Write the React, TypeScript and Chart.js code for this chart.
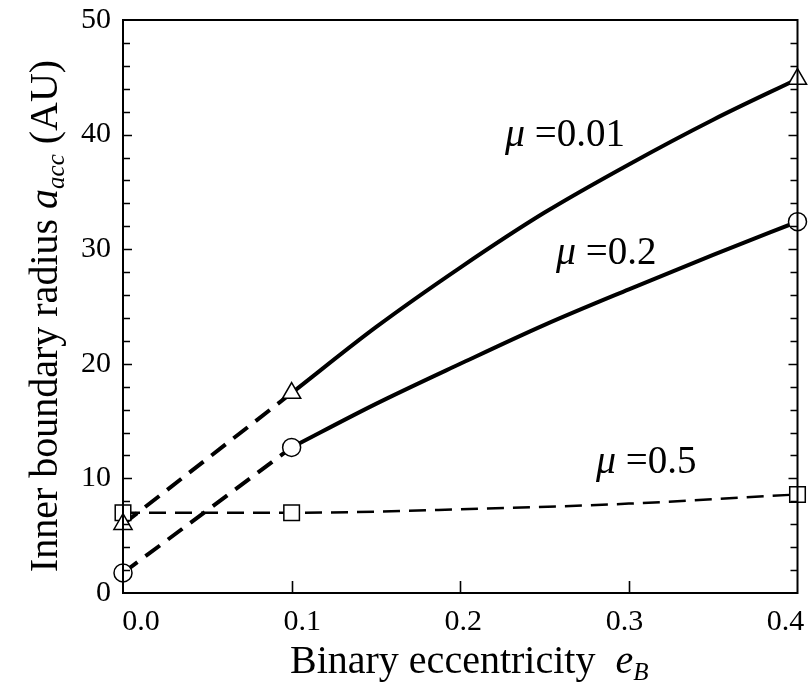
import React, { useEffect, useRef } from "react";
import { Chart, registerables } from "chart.js";

Chart.register(...registerables);

// ---- data ----
const eDashLeft = [0.0, 0.1];
const mu001Dash = [6.0, 17.45];
const mu02Dash = [1.75, 12.7];

const eCurve = [0.1, 0.15, 0.2, 0.25, 0.3, 0.35, 0.4];
const mu001Curve = [17.45, 23.2, 28.4, 33.2, 37.4, 41.3, 44.85];
const mu02Curve = [12.7, 16.5, 20.0, 23.4, 26.5, 29.5, 32.4];

const eMu05 = [0.0, 0.1, 0.2, 0.3, 0.4];
const mu05Values = [7.0, 7.0, 7.3, 7.8, 8.6];

const eMarkers = [0.0, 0.1, 0.4];
const mu001Markers = [6.0, 17.45, 44.85];
const mu02Markers = [1.75, 12.7, 32.4];
const mu05Markers = [7.0, 7.0, 8.6];

const xTickLabels = ["0.0", "0.1", "0.2", "0.3", "0.4"];
const xInnerTicks = [0.1, 0.2, 0.3];
const yAllTicks = [2, 4, 6, 8, 10, 12, 14, 16, 18, 20, 22, 24, 26, 28, 30, 32, 34, 36, 38, 40, 42, 44, 46, 48];

const seriesLabels = [
  { text: "0.01", x: 505, y: 146 },
  { text: "0.2", x: 556, y: 264 },
  { text: "0.5", x: 596, y: 473 },
];

const FONT = '"Liberation Serif", "Times New Roman", serif';

const pts = (xs: number[], ys: number[]) => xs.map((x, i) => ({ x, y: ys[i] }));

const overlay = {
  id: "overlay",
  afterDraw(chart: any) {
    const { ctx, chartArea } = chart;
    const { left, right, top, bottom } = chartArea;
    const xs = chart.scales.x;
    const ys = chart.scales.y;
    ctx.save();
    ctx.strokeStyle = "#000";
    ctx.lineWidth = 2;
    ctx.strokeRect(left, top, right - left, bottom - top);
    ctx.lineWidth = 1.6;
    ctx.beginPath();
    for (const v of yAllTicks) {
      const len = v % 10 === 0 ? 9 : 7;
      const py = Math.round(ys.getPixelForValue(v)) + 0.5;
      ctx.moveTo(left, py);
      ctx.lineTo(left + len, py);
      ctx.moveTo(right, py);
      ctx.lineTo(right - len, py);
    }
    for (const v of xInnerTicks) {
      const px = Math.round(xs.getPixelForValue(v)) + 0.5;
      ctx.moveTo(px, bottom);
      ctx.lineTo(px, bottom - 12);
    }
    ctx.stroke();

    ctx.fillStyle = "#000";
    ctx.textBaseline = "alphabetic";
    ctx.textAlign = "left";

    // x tick labels (slightly compressed toward the centre, as in the scan)
    ctx.font = `30px ${FONT}`;
    ctx.textAlign = "center";
    const lx0 = xs.getPixelForValue(0) + 18;
    const lx1 = xs.getPixelForValue(0.4) - 12;
    xTickLabels.forEach((t, i) => {
      ctx.fillText(t, lx0 + ((lx1 - lx0) * i) / (xTickLabels.length - 1), bottom + 37);
    });
    ctx.textAlign = "left";

    const drawSegs = (segs: { t: string; f: string; dy?: number }[], x0: number, y0: number) => {
      let x = x0;
      for (const s of segs) {
        ctx.font = s.f;
        ctx.fillText(s.t, x, y0 + (s.dy || 0));
        x += ctx.measureText(s.t).width;
      }
    };
    const segWidth = (segs: { t: string; f: string }[]) => {
      let w = 0;
      for (const s of segs) {
        ctx.font = s.f;
        w += ctx.measureText(s.t).width;
      }
      return w;
    };

    // x title
    const xSegs = [
      { t: "Binary eccentricity  ", f: `40px ${FONT}` },
      { t: "e", f: `italic 40px ${FONT}` },
      { t: "B", f: `italic 25px ${FONT}`, dy: 7 },
    ];
    drawSegs(xSegs, 290, 673);

    // y title (rotated)
    const ySegs = [
      { t: "Inner boundary radius ", f: `40px ${FONT}` },
      { t: "a", f: `italic 40px ${FONT}` },
      { t: "acc", f: `italic 25px ${FONT}`, dy: 7 },
      { t: " (AU)", f: `40px ${FONT}` },
    ];
    ctx.save();
    ctx.translate(57, 316);
    ctx.rotate(-Math.PI / 2);
    drawSegs(ySegs, -segWidth(ySegs) / 2, 0);
    ctx.restore();

    // series labels
    for (const l of seriesLabels) {
      drawSegs(
        [
          { t: "\u03bc", f: `italic 40px ${FONT}` },
          { t: " =" + l.text, f: `39px ${FONT}` },
        ],
        l.x,
        l.y
      );
    }
    ctx.restore();
  },
};

export default function App() {
  const ref = useRef<HTMLCanvasElement>(null);
  useEffect(() => {
    document.body.style.margin = "0";
    const solid = {
      borderColor: "#000",
      borderWidth: 4,
      pointRadius: 0,
      cubicInterpolationMode: "monotone" as const,
      fill: false,
    };
    const marker = {
      showLine: false,
      pointRadius: 10,
      pointBackgroundColor: "#fff",
      pointBorderColor: "#000",
      pointBorderWidth: 1.5,
      clip: false as const,
    };
    const chart = new Chart(ref.current!, {
      type: "line",
      data: {
        datasets: [
          { ...marker, data: pts(eMarkers, mu001Markers), pointStyle: "triangle", pointRadius: 10.5 },
          { ...marker, data: pts(eMarkers, mu02Markers), pointStyle: "circle", pointRadius: 9 },
          { ...marker, data: pts(eMarkers, mu05Markers), pointStyle: "rect", pointRadius: 11 },
          { ...solid, data: pts(eCurve, mu001Curve) },
          { ...solid, data: pts(eCurve, mu02Curve) },
          { ...solid, data: pts(eDashLeft, mu001Dash), borderDash: [18, 10] },
          { ...solid, data: pts(eDashLeft, mu02Dash), borderDash: [18, 10] },
          { ...solid, data: pts(eMu05, mu05Values), borderDash: [17, 9], borderWidth: 2.5 },
        ] as any,
      },
      options: {
        animation: false,
        responsive: false,
        devicePixelRatio: 1,
        layout: { padding: { top: 20, right: 10, left: 0, bottom: 0 } },
        plugins: { legend: { display: false }, tooltip: { enabled: false } },
        scales: {
          x: {
            type: "linear",
            min: 0,
            max: 0.4,
            grid: { display: false, drawTicks: false },
            border: { display: false },
            ticks: { stepSize: 0.1, display: false },
            afterFit: (s: any) => {
              s.height = 95;
              s.paddingLeft = 0;
              s.paddingRight = 0;
            },
          },
          y: {
            type: "linear",
            min: 0,
            max: 50,
            grid: { display: false, drawTicks: false },
            border: { display: false },
            ticks: {
              stepSize: 10,
              padding: 12,
              color: "#000",
              font: { family: FONT, size: 30 },
            },
            afterFit: (s: any) => {
              s.width = 123;
              s.paddingTop = 0;
              s.paddingBottom = 0;
            },
          },
        },
      },
      plugins: [overlay],
    });
    return () => chart.destroy();
  }, []);
  return (
    <div style={{ width: 810, height: 688, position: "relative" }}>
      <canvas ref={ref} width={810} height={688} style={{ display: "block" }} />
    </div>
  );
}
